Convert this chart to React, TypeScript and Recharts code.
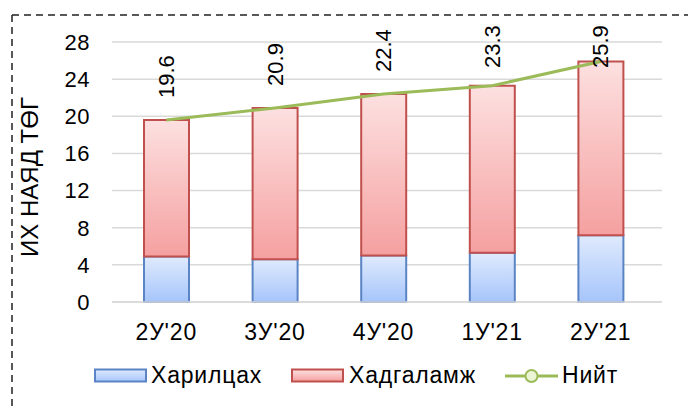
import {
  ComposedChart, Bar, Line, XAxis, YAxis, CartesianGrid, LabelList,
} from "recharts";

const quarters = ["2У'20", "3У'20", "4У'20", "1У'21", "2У'21"];
const hariltsah = [4.9, 4.6, 5.0, 5.3, 7.2];
const niit = [19.6, 20.9, 22.4, 23.3, 25.9];
const yTicks = [0, 4, 8, 12, 16, 20, 24, 28];

const data = quarters.map((q, i) => ({
  q,
  blue: hariltsah[i],
  red: +(niit[i] - hariltsah[i]).toFixed(1),
  total: niit[i],
}));

const FONT = "'Liberation Sans', Arial, sans-serif";

// rotated total labels, pushed down if they would leave the chart area
function TotalLabel(props: any) {
  const { x, y, width, value } = props;
  const cx = x + width / 2;
  const bottom = Math.max(y - 22, 68);
  return (
    <text
      x={cx}
      y={bottom}
      transform={`rotate(-90 ${cx} ${bottom})`}
      textAnchor="start"
      dominantBaseline="central"
      fontSize={22}
      fontFamily={FONT}
      fill="#000"
    >
      {value.toFixed(1)}
    </text>
  );
}

function LegendBox({ id, stroke }: { id: string; stroke: string }) {
  return (
    <svg width={54} height={16} style={{ display: "block" }}>
      <rect x={1} y={1.5} width={51} height={12} fill={`url(#${id})`} stroke={stroke} strokeWidth={2} />
    </svg>
  );
}

const legendText = { fontSize: 23, letterSpacing: 0.8, color: "#000", whiteSpace: "nowrap" as const };

export default function App() {
  return (
    <div style={{ position: "absolute", left: 0, top: 0, width: 688, height: 407, background: "#fff", fontFamily: FONT }}>
      <svg width={688} height={407} style={{ position: "absolute", left: 0, top: 0 }}>
        <defs>
          <linearGradient id="blueGrad" x1="0" y1="0" x2="0" y2="1">
            <stop offset="0%" stopColor="#dfeafd" />
            <stop offset="100%" stopColor="#a6c5fb" />
          </linearGradient>
          <linearGradient id="redGrad" x1="0" y1="0" x2="0" y2="1">
            <stop offset="0%" stopColor="#fde0e0" />
            <stop offset="100%" stopColor="#f5a0a0" />
          </linearGradient>
        </defs>
        <line x1={12} y1={15} x2={688} y2={15} stroke="#222" strokeWidth={1.5} strokeDasharray="7 5" />
        <line x1={12} y1={15} x2={12} y2={407} stroke="#222" strokeWidth={1.5} strokeDasharray="7 5" />
      </svg>

      <div
        style={{
          position: "absolute", left: 30, top: 177, transform: "translate(-50%, -50%) rotate(-90deg)",
          fontSize: 24, whiteSpace: "nowrap", color: "#000",
        }}
      >
        ИХ НАЯД ТӨГ
      </div>

      <div style={{ position: "absolute", left: 0, top: 0 }}>
        <ComposedChart width={688} height={407} data={data} margin={{ top: 42, right: 26, bottom: 75, left: 52 }}>
          <defs>
            <linearGradient id="blueBar" x1="0" y1="0" x2="0" y2="1">
              <stop offset="0%" stopColor="#dfeafd" />
              <stop offset="100%" stopColor="#a6c5fb" />
            </linearGradient>
            <linearGradient id="redBar" x1="0" y1="0" x2="0" y2="1">
              <stop offset="0%" stopColor="#fde0e0" />
              <stop offset="100%" stopColor="#f5a0a0" />
            </linearGradient>
          </defs>
          <CartesianGrid vertical={false} stroke="#d9d9d9" strokeWidth={1.5} />
          <XAxis
            dataKey="q"
            height={30}
            padding={{ left: 0, right: 7 }}
            tickLine={false}
            axisLine={{ stroke: "#d9d9d9", strokeWidth: 1.5 }}
            tickMargin={16}
            tick={{ fill: "#000", fontSize: 23, fontFamily: FONT, letterSpacing: 0.8 }}
          />
          <YAxis
            width={60}
            domain={[0, 28]}
            ticks={yTicks}
            tickLine={false}
            axisLine={false}
            tickMargin={16}
            tick={{ fill: "#000", fontSize: 22, fontFamily: FONT, letterSpacing: 0.5 }}
          />
          <Bar dataKey="blue" stackId="a" barSize={45} fill="url(#blueBar)" stroke="#5b84c4" strokeWidth={2} isAnimationActive={false} />
          <Bar dataKey="red" stackId="a" barSize={45} fill="url(#redBar)" stroke="#c0504d" strokeWidth={2} isAnimationActive={false}>
            <LabelList dataKey="total" content={TotalLabel} />
          </Bar>
          <Line type="linear" dataKey="total" stroke="#9bbb59" strokeWidth={3} dot={false} activeDot={false} isAnimationActive={false} />
        </ComposedChart>
      </div>

      <div style={{ position: "absolute", left: 94, top: 368 }}>
        <LegendBox id="blueGrad" stroke="#5b84c4" />
      </div>
      <div style={{ ...legendText, position: "absolute", left: 151, top: 362 }}>Харилцах</div>
      <div style={{ position: "absolute", left: 291, top: 368 }}>
        <LegendBox id="redGrad" stroke="#c0504d" />
      </div>
      <div style={{ ...legendText, position: "absolute", left: 349, top: 362 }}>Хадгаламж</div>
      <div style={{ position: "absolute", left: 504, top: 368 }}>
        <svg width={55} height={16} style={{ display: "block" }}>
          <line x1={1} y1={8} x2={54} y2={8} stroke="#9bbb59" strokeWidth={3} />
          <circle cx={27.5} cy={8} r={6} fill="#ebf5d5" stroke="#9bbb59" strokeWidth={2} />
        </svg>
      </div>
      <div style={{ ...legendText, position: "absolute", left: 562, top: 362 }}>Нийт</div>
    </div>
  );
}
